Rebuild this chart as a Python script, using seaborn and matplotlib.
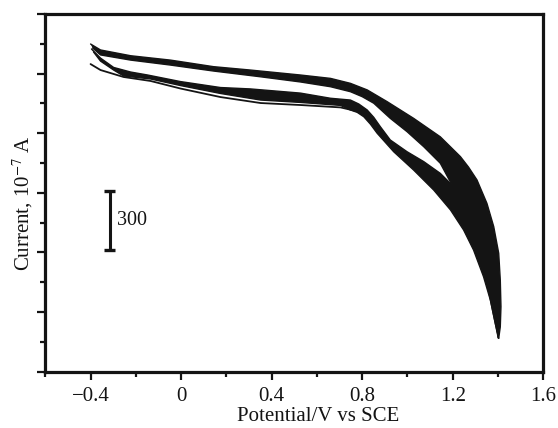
import numpy as np
import matplotlib
matplotlib.use("Agg")
import matplotlib.pyplot as plt
from matplotlib.ticker import MultipleLocator, FuncFormatter
import seaborn as sns

# Repetitive cyclic voltammetry: potential in V vs SCE, current in 10^-7 A.
# Each scan direction forms a band of overlapping cycles; the band edges are listed.

# Reverse scan band (upper branch), outer edge
rev_outer_v = [-0.400, -0.356, -0.223, -0.047, 0.143, 0.306, 0.527, 0.660, 0.748, 0.822,
               0.910, 1.027, 1.145, 1.234, 1.270, 1.307, 1.329, 1.351, 1.381, 1.403,
               1.410, 1.413, 1.410, 1.403]
rev_outer_i = [149, 119, 90, 68, 35, 18, -7, -24, -49, -82,
               -141, -225, -318, -418, -471, -535, -594, -653, -770, -904,
               -1039, -1173, -1274, -1332]

# Reverse scan band, inner edge
rev_inner_v = [-0.391, -0.356, -0.223, -0.047, 0.143, 0.351, 0.527, 0.660, 0.748, 0.800,
               0.851, 0.924, 0.998, 1.072, 1.145, 1.197, 1.242, 1.300, 1.353, 1.401]
rev_inner_i = [129, 94, 68, 43, 13, -16, -42, -66, -91, -116,
               -149, -225, -292, -368, -451, -561, -686, -862, -1064, -1330]

# Forward scan band (lower branch), upper edge
fwd_upper_v = [-0.396, -0.356, -0.298, -0.223, -0.148, -0.003, 0.174, 0.306, 0.527, 0.660,
               0.748, 0.785, 0.822, 0.851, 0.880, 0.924, 0.998, 1.072, 1.145, 1.197,
               1.256, 1.322, 1.375, 1.401]
fwd_upper_i = [124, 78, 31, 8, -7, -40, -70, -77, -98, -124,
               -133, -153, -183, -220, -267, -334, -393, -443, -502, -561,
               -712, -888, -1089, -1330]

# Forward scan band, lower edge
fwd_lower_v = [-0.387, -0.356, -0.298, -0.254, -0.135, -0.003, 0.174, 0.351, 0.527, 0.704,
               0.748, 0.778, 0.807, 0.836, 0.866, 0.939, 1.027, 1.116, 1.190, 1.248,
               1.292, 1.336, 1.366, 1.388, 1.403]
fwd_lower_i = [109, 63, 18, -12, -27, -60, -100, -133, -145, -160,
               -183, -195, -217, -254, -300, -393, -485, -586, -686, -787,
               -888, -1022, -1139, -1257, -1332]

# First forward sweep, running just below the band
first_v = [-0.400, -0.356, -0.254, -0.135, -0.003, 0.174, 0.351, 0.527, 0.704, 0.792]
first_i = [48, 18, -17, -37, -75, -118, -148, -158, -170, -193]

# Current scale bar (10^-7 A)
scale_v = -0.315
scale_lo, scale_hi = -890, -590
scale_text = "300"

x_ticks = [-0.4, 0.0, 0.4, 0.8, 1.2, 1.6]

ink = "#141414"

sns.set_theme(style="ticks")
plt.rcParams["font.family"] = ["Liberation Serif", "DejaVu Serif"]
plt.rcParams["mathtext.fontset"] = "stix"

fig = plt.figure(figsize=(5.58, 4.28), dpi=100)
ax = fig.add_axes([45.3 / 558, 1 - 371.7 / 428, 498 / 558, 357.7 / 428])


def band(upper_v, upper_i, lower_v, lower_i):
    xs = list(upper_v) + list(lower_v)[::-1]
    ys = list(upper_i) + list(lower_i)[::-1]
    ax.fill(xs, ys, color=ink, lw=0, zorder=2)
    for v, i in ((upper_v, upper_i), (lower_v, lower_i)):
        sns.lineplot(x=v, y=i, sort=False, estimator=None, color=ink, lw=1.0, ax=ax, zorder=3)


band(rev_outer_v, rev_outer_i, rev_inner_v, rev_inner_i)
band(fwd_upper_v, fwd_upper_i, fwd_lower_v, fwd_lower_i)
sns.lineplot(x=first_v, y=first_i, sort=False, estimator=None, color=ink, lw=1.3, ax=ax, zorder=3)

# scale bar
cap = 0.024
ax.plot([scale_v, scale_v], [scale_lo, scale_hi], color=ink, lw=2.2, solid_capstyle="butt")
for yv in (scale_lo, scale_hi):
    ax.plot([scale_v - cap, scale_v + cap], [yv, yv], color=ink, lw=2.4, solid_capstyle="butt")
ax.text(scale_v + 0.033, (scale_lo + scale_hi) / 2, scale_text, fontsize=14.5,
        color=ink, ha="left", va="center")

ax.set_xlim(-0.6, 1.6)
ax.set_ylim(-1500, 300)
ax.set_xticks(x_ticks)
ax.xaxis.set_minor_locator(MultipleLocator(0.2))
ax.yaxis.set_major_locator(MultipleLocator(300))
ax.yaxis.set_minor_locator(MultipleLocator(150))
ax.xaxis.set_major_formatter(FuncFormatter(
    lambda v, pos: "0" if abs(v) < 1e-9 else f"{v:.1f}".replace("-", "\u2212")))

for s in ax.spines.values():
    s.set_visible(True)
    s.set_linewidth(2.3)
    s.set_color(ink)

ax.tick_params(axis="both", which="both", direction="out", color=ink, width=1.6,
               top=False, right=False, bottom=True, left=True)
ax.tick_params(axis="both", which="major", length=6)
ax.tick_params(axis="both", which="minor", length=3.5)
ax.tick_params(axis="x", labelsize=15, pad=5, labelcolor=ink)
ax.tick_params(axis="y", labelleft=False)

ax.set_xlabel("Potential/V vs SCE", fontsize=15, color=ink)
ax.set_ylabel(r"Current, 10$^{-7}$ A", fontsize=15, color=ink)
ax.xaxis.set_label_coords(0.547, -0.098)
ax.yaxis.set_label_coords(-0.02, 0.472)

fig.savefig("out.png", dpi=100, facecolor="white")
